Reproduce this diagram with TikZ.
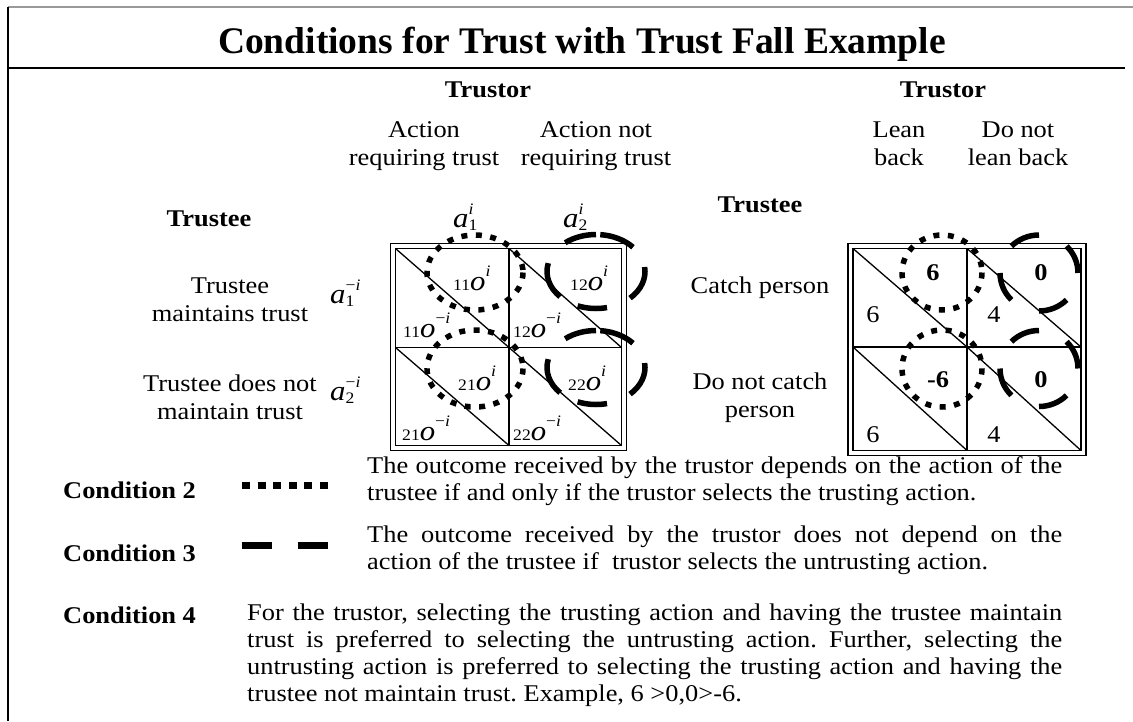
\documentclass[tikz,border=0pt]{standalone}
\usepackage{fontspec}
\setmainfont{Liberation Serif}[FakeStretch=1.1]
\newfontfamily\titlefont{Liberation Serif}
\frenchspacing
\newcommand{\subsz}{\fontsize{16}{16}\selectfont}
\newcommand{\mlab}[3]{\fontsize{28}{30}\selectfont\textit{#1}\rlap{\raisebox{-3pt}{\subsz #2}}\raisebox{13pt}{\subsz #3}}
\newcommand{\olab}[2]{{\subsz #1}\fontsize{28}{30}\selectfont\textit{o}\raisebox{14pt}{\subsz #2}}
\begin{document}
\begin{tikzpicture}[x=1pt,y=-1pt]
\useasboundingbox (0,0) rectangle (1133,721);
\tikzset{
  gridline/.style={line width=1.3pt},
  dotc/.style={line width=5.5pt, dash pattern=on 6pt off 8.5pt},
  dashc/.style={line width=5.5pt},
  lbl/.style={inner sep=0pt, font=\frenchspacing\fontsize{24}{28}\selectfont},
  plbl/.style={inner sep=0pt, font=\frenchspacing\fontsize{24}{27}\selectfont},
  blbl/.style={inner sep=0pt, font=\bfseries\fontsize{24}{27}\selectfont},
  mth/.style={inner sep=0pt, anchor=base west},
}
\newcommand{\darc}[6]{\draw[dashc] (#1,#2) ++(-#5:#3 and #4) arc[start angle=-#5, end angle=-#6, x radius=#3, y radius=#4];}
% frame
\draw[line width=1.2pt, black!40] (8,7) -- (1133,7);
\draw[line width=1.3pt] (8,7) -- (8,721);
\draw[line width=2.6pt] (8,68) -- (1125,68);
\node[anchor=base, inner sep=0pt, font=\titlefont\bfseries\fontsize{37.5}{40}\selectfont] (title) at (582,53) {Conditions for Trust with Trust Fall Example};
% headers left (multi-line nodes: base = last line)
\node[blbl, anchor=base] (trustorL) at (488,97) {Trustor};
\node[lbl, anchor=base, align=center] (colA1) at (424,165) {Action\\requiring trust};
\node[lbl, anchor=base, align=center] (colA2) at (596,165) {Action not\\requiring trust};
\node[blbl, anchor=base] (trusteeL) at (209,226) {Trustee};
% headers right
\node[blbl, anchor=base] (trustorR) at (943,97) {Trustor};
\node[lbl, anchor=base, align=center] (colB1) at (899,165) {Lean\\back};
\node[lbl, anchor=base, align=center] (colB2) at (1018,165) {Do not\\lean back};
\node[blbl, anchor=base] (trusteeR) at (760,212) {Trustee};
% row labels
\node[lbl, anchor=base, align=center] (rowA1) at (230,321) {Trustee\\maintains trust};
\node[lbl, anchor=base, align=center] (rowA2) at (230,419) {Trustee does not\\maintain trust};
\node[lbl, anchor=base] (rowB1) at (760,293) {Catch person};
\node[lbl, anchor=base, align=center] (rowB2) at (760,417) {Do not catch\\person};
% action symbols
\node[mth] (a1i) at (453,227) {\mlab{a}{1}{\itshape i}};
\node[mth] (a2i) at (563,227) {\mlab{a}{2}{\itshape i}};
\node[mth] (a1mi) at (330,303) {\mlab{a}{1}{−\itshape i}};
\node[mth] (a2mi) at (330,400) {\mlab{a}{2}{−\itshape i}};
% left matrix
\draw[gridline] (390.5,243.5) rectangle (626.5,450.5);
\draw[gridline] (395.5,248.5) rectangle (621.5,445.5);
\draw[gridline] (509,248.5) -- (509,445.5);
\draw[gridline] (395.5,347.5) -- (621.5,347.5);
\draw[gridline] (395.5,248.5) -- (509,347.5);
\draw[gridline] (509,248.5) -- (621.5,347.5);
\draw[gridline] (395.5,347.5) -- (509,445.5);
\draw[gridline] (509,347.5) -- (621.5,445.5);
\node[mth] (o11u) at (453,290) {\olab{11}{\itshape i}};
\node[mth] (o12u) at (570,290) {\olab{12}{\itshape i}};
\node[mth] (o21u) at (458,390) {\olab{21}{\itshape i}};
\node[mth] (o22u) at (568,390) {\olab{22}{\itshape i}};
\node[mth] (o11l) at (403,337) {\olab{11}{−\itshape i}};
\node[mth] (o12l) at (513,337) {\olab{12}{−\itshape i}};
\node[mth] (o21l) at (402,440) {\olab{21}{−\itshape i}};
\node[mth] (o22l) at (513,440) {\olab{22}{−\itshape i}};
\draw[dotc] (475,272.5) ellipse [x radius=48, y radius=37.5];
\draw[dotc] (475,368.5) ellipse [x radius=48, y radius=38.5];
\foreach \cy in {271.5,367.5}{
  \darc{596}{\cy}{49}{37}{41}{85}
  \darc{596}{\cy}{49}{37}{90}{129}
  \darc{596}{\cy}{49}{37}{167}{223}
  \darc{596}{\cy}{49}{37}{248}{283}
  \darc{596}{\cy}{49}{37}{314}{367}
}
% right matrix
\draw[gridline] (848,243.5) rectangle (1086,455.5);
\draw[gridline] (853,248.5) rectangle (1081,450.5);
\draw[gridline] (967,248.5) -- (967,450.5);
\draw[gridline] (853,347) -- (1081,347);
\draw[gridline] (853,248.5) -- (967,347);
\draw[gridline] (967,248.5) -- (1081,347);
\draw[gridline] (853,347) -- (967,450.5);
\draw[gridline] (967,347) -- (1081,450.5);
\node[blbl, anchor=base] (p11u) at (933,280) {6};
\node[blbl, anchor=base] (p12u) at (1041,280) {0};
\node[lbl, anchor=base] (p11l) at (873,322) {6};
\node[lbl, anchor=base] (p12l) at (994,322) {4};
\node[blbl, anchor=base] (p21u) at (938,387) {-6};
\node[blbl, anchor=base] (p22u) at (1041,387) {0};
\node[lbl, anchor=base] (p21l) at (873,442) {6};
\node[lbl, anchor=base] (p22l) at (994,442) {4};
\draw[dotc] (942,272.5) ellipse [x radius=40, y radius=37.5];
\draw[dotc] (942,368.5) ellipse [x radius=40, y radius=38.5];
\foreach \cy in {273,368.5}{
  \darc{1039}{\cy}{39}{38}{0}{45}
  \darc{1039}{\cy}{39}{38}{90}{135}
  \darc{1039}{\cy}{39}{38}{180}{225}
  \darc{1039}{\cy}{39}{38}{270}{315}
}
% legend and conditions
\node[blbl, anchor=base west] (c2) at (63,498) {Condition 2};
\node[blbl, anchor=base west] (c3) at (63,561) {Condition 3};
\node[blbl, anchor=base west] (c4) at (63,623) {Condition 4};
\draw[line width=7pt, dash pattern=on 8pt off 7.6pt] (242,485.5) -- (328,485.5);
\draw[line width=7pt, dash pattern=on 30pt off 26pt] (242,545) -- (328,545);
\node[plbl, anchor=base west, text width=695pt, align=justify] (t2) at (367,473) {The outcome received by the trustor depends on the action of the\linebreak trustee if and only if the trustor selects the trusting action.};
\node[plbl, anchor=base west, text width=695pt, align=justify] (t3) at (367,542) {The outcome received by the trustor does not depend on the\linebreak action of the trustee if\ \ trustor selects the untrusting action.};
\node[plbl, anchor=base west, text width=815pt, align=justify] (t4) at (247,620) {For the trustor, selecting the trusting action and having the trustee maintain\linebreak trust is preferred to selecting the untrusting action. Further, selecting the\linebreak untrusting action is preferred to selecting the trusting action and having the\linebreak trustee not maintain trust. Example, 6 >0,0>-6.};
\end{tikzpicture}
\end{document}
